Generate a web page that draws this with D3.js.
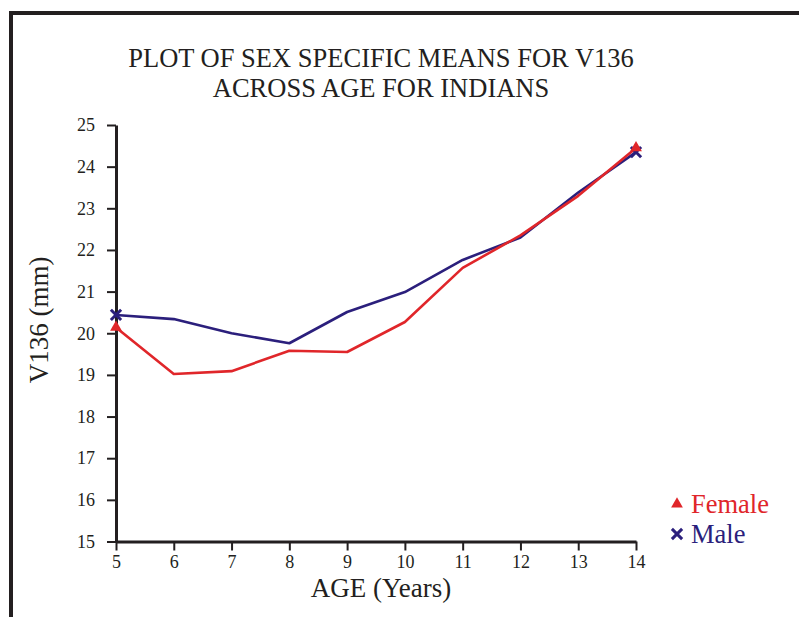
<!DOCTYPE html>
<html><head><meta charset="utf-8">
<script src="https://cdn.jsdelivr.net/npm/d3@7"></script>
<style>body{margin:0;background:#fff}svg{display:block}</style>
</head><body>
<script>
const ages = [5,6,7,8,9,10,11,12,13,14];
const female = [20.14,19.02,19.09,19.58,19.55,20.27,21.57,22.35,23.3,24.45];
const male = [20.44,20.34,20.0,19.76,20.51,20.99,21.76,22.3,23.38,24.35];
const yTicks = [15,16,17,18,19,20,21,22,23,24,25];
const titleLines = ["PLOT OF SEX SPECIFIC MEANS FOR V136","ACROSS AGE FOR INDIANS"];
const seriesNames = ["Female","Male"];
const colors = {Female:"#e0262a", Male:"#2b1f7c"};

const W=799,H=617;
const svg=d3.select("body").append("svg").attr("width",W).attr("height",H);
const font="'Liberation Serif','Times New Roman',serif";

// frame
svg.append("path").attr("d","M11,617 V13 H799").attr("fill","none").attr("stroke","#231f20").attr("stroke-width",4);

const x=d3.scaleLinear().domain([5,14]).range([116,636]);
const y=d3.scaleLinear().domain([15,25]).range([541.5,125]);

svg.append("g").selectAll("text").data(titleLines).join("text")
  .attr("x",381).attr("y",(d,i)=>67+i*30).attr("text-anchor","middle")
  .attr("font-family",font).attr("font-size",26.5).attr("fill","#231f20").text(d=>d);

const xa=svg.append("g").attr("transform","translate(0,541.5)")
  .call(d3.axisBottom(x).tickValues(ages).tickFormat(d3.format("d")).tickSize(9).tickSizeOuter(0));
const ya=svg.append("g").attr("transform","translate(116,0)")
  .call(d3.axisLeft(y).tickValues(yTicks).tickFormat(d3.format("d")).tickSize(9).tickSizeOuter(0));
[xa,ya].forEach(a=>{
  a.select(".domain").attr("stroke","#231f20").attr("stroke-width",3);
  a.selectAll(".tick line").attr("stroke","#231f20").attr("stroke-width",2);
  a.selectAll(".tick text").attr("font-family",font).attr("font-size",18).attr("fill","#231f20");
});
xa.selectAll(".tick text").attr("dy","0.8em");
ya.selectAll(".tick text").attr("x",-21);

svg.append("text").attr("x",381).attr("y",597).attr("text-anchor","middle")
  .attr("font-family",font).attr("font-size",27).attr("fill","#231f20").text("AGE (Years)");
svg.append("text").attr("transform","translate(48,320) rotate(-90)").attr("text-anchor","middle")
  .attr("font-family",font).attr("font-size",27).attr("fill","#231f20").text("V136 (mm)");

const line=d3.line().x((d,i)=>x(ages[i])).y(d=>y(d));
const data={Female:female,Male:male};
["Male","Female"].forEach(n=>{
  svg.append("path").datum(data[n]).attr("d",line).attr("fill","none")
    .attr("stroke",colors[n]).attr("stroke-width",2.6).attr("stroke-linejoin","round");
});
const tri=d3.symbol().type(d3.symbolTriangle).size(60);
const cross=d3.symbol().type(d3.symbolX).size(70);
function marker(n,cx,cy){
  if(n==="Female"){
    svg.append("path").attr("d",tri()).attr("transform",`translate(${cx},${cy})`).attr("fill",colors[n]);
  } else {
    svg.append("path").attr("d",cross()).attr("transform",`translate(${cx},${cy})`)
      .attr("fill","none").attr("stroke",colors[n]).attr("stroke-width",3);
  }
}
["Male","Female"].forEach(n=>{
  [0,ages.length-1].forEach(i=>marker(n,x(ages[i]),y(data[n][i])));
});

// legend
seriesNames.forEach((n,i)=>{
  const ly=504+i*30;
  marker(n,677,ly);
  svg.append("text").attr("x",691).attr("y",ly+9).attr("font-family",font).attr("font-size",26.5)
    .attr("fill",colors[n]).text(n);
});
</script>
</body></html>
